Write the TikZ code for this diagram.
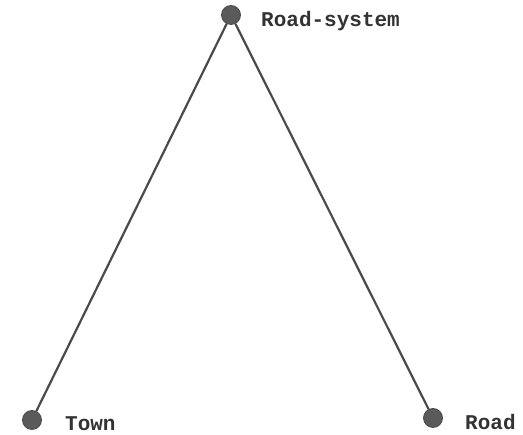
\documentclass[tikz,border=0pt]{standalone}
\usepackage{fontspec}
\setmonofont{Liberation Mono}
\usepackage{tikz}
\usetikzlibrary{positioning}
\definecolor{dotgray}{HTML}{5A5A5A}
\definecolor{linegray}{HTML}{4A4A4A}
\definecolor{textgray}{HTML}{333333}

\begin{document}
\begin{tikzpicture}[x=1pt, y=1pt,
    vertex/.style={circle, draw=dotgray!80!black, fill=dotgray, line width=0.8pt, minimum size=19pt, inner sep=0pt},
    label/.style={font=\ttfamily\bfseries\fontsize{21}{24}\selectfont, text=textgray, anchor=west, inner sep=0pt},
    edge/.style={draw=linegray, line width=2.2pt}
]
\useasboundingbox (0,0) rectangle (523,435);
% Vertices
\node[vertex] (system) at (231, 420) {};
\node[vertex] (town) at (32, 15) {};
\node[vertex] (road) at (433, 17) {};
% Edges
\draw[edge] (system) -- (town);
\draw[edge] (system) -- (road);
% Labels
\node[label] (systemlbl) at (261, 414) {Road-system};
\node[label] (townlbl) at (65, 11) {Town};
\node[label] (roadlbl) at (465, 13) {Road};
\end{tikzpicture}
\end{document}
